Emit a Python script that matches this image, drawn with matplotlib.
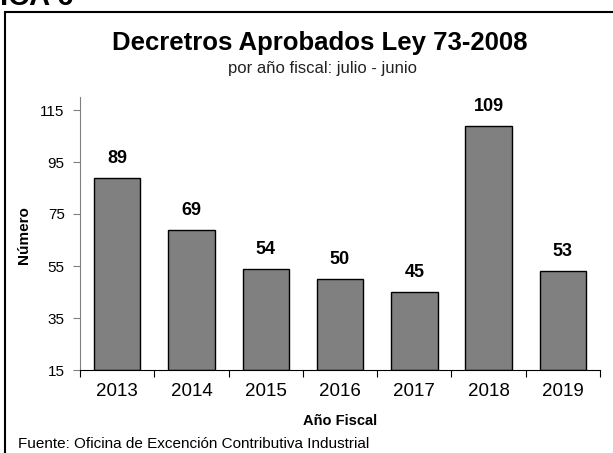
import matplotlib
matplotlib.use("Agg")
import matplotlib.pyplot as plt
from matplotlib.patches import Rectangle

years = ["2013", "2014", "2015", "2016", "2017", "2018", "2019"]
decretos = [89, 69, 54, 50, 45, 109, 53]
yticks = [15, 35, 55, 75, 95, 115]

plt.rcParams['font.family'] = ['Liberation Sans', 'DejaVu Sans']

fig = plt.figure(figsize=(6.13, 4.53), dpi=100)
W, H = 613, 453

def fx(px):
    return px / W

def fy(py):
    return 1 - py / H

# outer frame (extends beyond right/bottom edges)
fig.patches.append(Rectangle((fx(5), -0.1), 1.2, fy(12) + 0.1, transform=fig.transFigure,
                             fill=False, edgecolor='black', linewidth=1.5))
fig.text(fx(0), fy(5), "ICA 6", fontsize=21, fontweight='bold', va='baseline', ha='left')

ax = fig.add_axes([fx(80), fy(370), fx(600) - fx(80), fy(97) - fy(370)])
x = list(range(len(years)))
ax.bar(x, [v - 15 for v in decretos], bottom=15, width=0.625, color='#808080', edgecolor='black', linewidth=1)
for xi, v in zip(x, decretos):
    ax.annotate(str(v), (xi, v), xytext=(0, 14), textcoords='offset points', ha='center', va='center',
                fontsize=13, fontweight='bold')

ax.set_xlim(-0.5, len(years) - 0.5)
ax.set_ylim(15, 120)
ax.set_yticks(yticks)
ax.set_xticks([i + 0.5 for i in range(-1, len(years))], minor=False)
ax.set_xticklabels([])
ax.set_xticks(x, minor=True)
ax.set_xticklabels(years, minor=True, fontsize=13.5)
ax.tick_params(axis='x', which='minor', length=0, pad=9)
ax.tick_params(axis='x', which='major', length=5, color='black', direction='out')
ax.tick_params(axis='y', length=5, color='gray', labelsize=11, pad=6)
for s in ['top', 'right']:
    ax.spines[s].set_visible(False)
ax.spines['left'].set_color('gray')
ax.spines['bottom'].set_color('black')

fig.text(fx(320), fy(43), "Decretros Aprobados Ley 73-2008", fontsize=18.5, fontweight='bold', ha='center', va='center')
fig.text(fx(322), fy(69), "por año fiscal: julio - junio", fontsize=12, ha='center', va='center', color='#222222')
fig.text(fx(24), fy(235), "Número", fontsize=11, fontweight='bold', rotation=90, ha='center', va='center')
fig.text(fx(340), fy(421), "Año Fiscal", fontsize=10.5, fontweight='bold', ha='center', va='center')
fig.text(fx(18), fy(444), "Fuente: Oficina de Excención Contributiva Industrial", fontsize=11, ha='left', va='center')

fig.savefig("out.png", dpi=100)
